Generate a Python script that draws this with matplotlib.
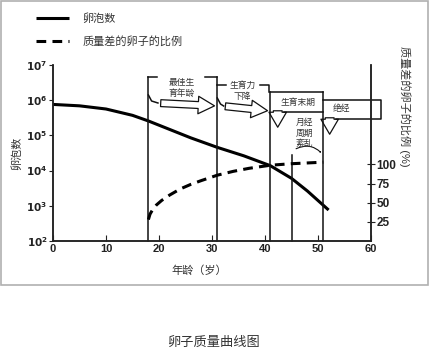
import numpy as np
import matplotlib.pyplot as plt
from matplotlib.patches import FancyArrowPatch, Rectangle

plt.rcParams['font.family'] = ['Liberation Sans', 'Noto Sans CJK SC', 'DejaVu Sans']
plt.rcParams['lines.scale_dashes'] = False

# follicle count (solid, left log axis), read as log10 values
age_follicle = [0, 5, 10, 15, 18, 22, 26, 31, 36, 41, 45, 48, 52]
log_follicles = [5.88, 5.84, 5.75, 5.57, 5.41, 5.17, 4.93, 4.66, 4.42, 4.14, 3.78, 3.42, 2.88]
follicles = [10 ** v for v in log_follicles]

# share of poor-quality eggs (dashed, right axis, %)
age_poor = [18, 18.3, 18.8, 19.5, 20.5, 22, 24, 26, 28, 31, 34, 37, 41, 45, 51]
poor_pct = [28, 35, 41, 47, 53, 60, 68, 74, 79, 86, 91, 95, 99, 101, 103]

stage_edges = [18, 31, 41, 45, 51]
stage_names = ["最佳生\n育年龄", "生育力\n下降", "生育末期", "月经\n周期\n紊乱", "绝经"]

x_ticks = [0, 10, 20, 30, 40, 50, 60]
right_ticks = [25, 50, 75, 100]

fig = plt.figure(figsize=(4.30, 3.53), dpi=100)
ax = fig.add_axes([53 / 430, 1 - 241 / 353, 318 / 430, 176 / 353])
ax2 = ax.twinx()

txt = '#333333'

l1, = ax.plot(age_follicle, follicles, color='black', lw=2.2, solid_capstyle='butt')
l2, = ax2.plot(age_poor, poor_pct, color='black', lw=2.2, dashes=(7, 4.5))

ax.set_yscale('log')
ax.set_ylim(1e2, 1e7)
ax.set_xlim(0, 60)
ax2.set_ylim(0, 230)
ax.set_yticks([10.0 ** k for k in range(2, 8)])
ax.set_yticklabels([r'$\mathbf{10^{%d}}$' % k for k in range(2, 8)])
ax.minorticks_off()
ax.set_xticks(x_ticks)
ax.set_xticklabels([str(v) for v in x_ticks], fontweight='bold')
ax2.set_yticks(right_ticks)
ax2.set_yticklabels([str(v) for v in right_ticks], fontweight='bold')

for a in (ax, ax2):
    a.spines['top'].set_visible(False)
    for s in a.spines.values():
        s.set_linewidth(1.1)
        s.set_color('#222222')
ax.tick_params(axis='y', direction='out', length=3, labelsize=7.5, colors='#222222', pad=1)
ax.tick_params(axis='x', direction='in', length=4, labelsize=8, colors='#222222', pad=2)
ax2.tick_params(axis='y', direction='inout', length=6, labelsize=8.5, colors='#222222', pad=1)

ax.set_ylabel('卵泡数', fontsize=8, color=txt, labelpad=3)
fig.text(199 / 430, 1 - 270 / 353, '年龄（岁）', fontsize=8, color=txt, ha='center', va='center')
fig.text(405 / 430, 1 - 106 / 353, '质量差的卵子的比例 (%)', fontsize=8, color=txt,
         rotation=270, ha='center', va='center')

# stage annotations: x in data, y in axes fraction
tr = ax.get_xaxis_transform()


def f(py):
    return (241 - py) / 176


kw = dict(color='#111111', lw=1.1, transform=tr, clip_on=False)
tops = [77, 77, 92, 155, 92]
for x, t in zip(stage_edges, tops):
    ax.plot([x, x], [0, f(t)], **kw)

# box 1
ax.plot([18, 19.6], [f(77), f(77)], **kw)
ax.plot([28.6, 31], [f(77), f(77)], **kw)
ax.text(24.3, f(88), stage_names[0], transform=tr, fontsize=6.3, color=txt,
        ha='center', va='center', linespacing=1.2)
# box 2
ax.plot([31, 32.6], [f(85), f(85)], **kw)
ax.plot([39, 40.8, 40.8], [f(85), f(85), f(92)], **kw)
ax.text(35.8, f(91), stage_names[1], transform=tr, fontsize=6.3, color=txt,
        ha='center', va='center', linespacing=1.2)
# box 3
ax.plot([41, 51], [f(92), f(92)], **kw)
ax.plot([43.6, 51], [f(112), f(112)], **kw)
ax.text(46.2, f(102), stage_names[2], transform=tr, fontsize=6.3, color=txt,
        ha='center', va='center')
# menstrual text
ax.text(47.4, f(133), stage_names[3], transform=tr, fontsize=6.3, color=txt,
        ha='center', va='center', linespacing=1.2)
# box 5
ax.plot([51, 61.8, 61.8, 53.4], [f(100), f(100), f(119), f(119)], **kw)
ax.text(54.4, f(108), stage_names[4], transform=tr, fontsize=6.3, color=txt,
        ha='center', va='center')

akw = dict(transform=tr, fc='white', ec='#111111', lw=0.9, clip_on=False,
           mutation_scale=9)
arrows = [
    ((19.8, f(103)), (31, f(106)), 'simple,head_width=1.4,head_length=1.3,tail_width=0.55'),
    ((32.0, f(106)), (41, f(111)), 'simple,head_width=1.4,head_length=1.3,tail_width=0.55'),
    ((42.4, f(108)), (42.4, f(130)), 'simple,head_width=1.4,head_length=1.2,tail_width=0.7'),
    ((52.2, f(115)), (52.2, f(137)), 'simple,head_width=1.4,head_length=1.2,tail_width=0.7'),
]
for p0, p1, st in arrows:
    ax.add_patch(FancyArrowPatch(p0, p1, arrowstyle=st, **akw))
ax.plot([18, 18.6, 19.8], [f(95), f(101), f(103)], **kw)
ax.plot([31, 31.6, 32.2], [f(98), f(104), f(106)], **kw)
ax.add_patch(FancyArrowPatch((45.4, f(150)), (51, f(155)), transform=tr,
                             arrowstyle='->,head_width=0.2,head_length=0.4',
                             connectionstyle='arc3,rad=-0.4', lw=0.8,
                             color='#111111', clip_on=False))

fig.legend([l1, l2], ['卵泡数', '质量差的卵子的比例'], loc='upper left',
           bbox_to_anchor=(26 / 430, 1 - 3 / 353), frameon=False, fontsize=8,
           handlelength=3.0, handletextpad=1.2, labelspacing=1.1, labelcolor=txt)

fig.add_artist(Rectangle((0.002, 1 - 285 / 353), 0.993, 285 / 353 - 0.002,
                         transform=fig.transFigure, fill=False, ec='#b0b0b0', lw=1.2))
fig.text(213 / 430, 1 - 343 / 353, '卵子质量曲线图', fontsize=9.5, color='#333333',
         ha='center', va='center')

fig.savefig('out.png', dpi=100)
